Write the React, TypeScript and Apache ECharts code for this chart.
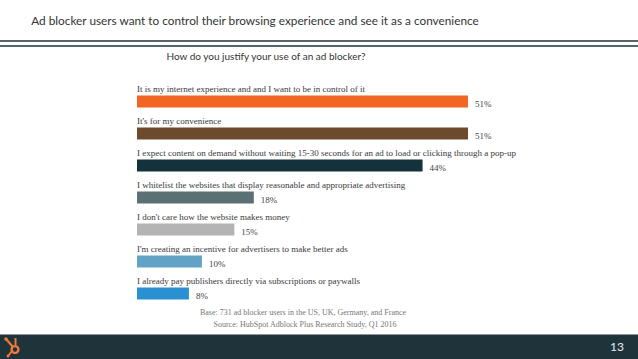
import React, { useEffect, useRef } from "react";
import * as echarts from "echarts";

const categories = [
  "It is my internet experience and and I want to be in control of it",
  "It's for my convenience",
  "I expect content on demand without waiting 15-30 seconds for an ad to load or clicking through a pop-up",
  "I whitelist the websites that display reasonable and appropriate advertising",
  "I don't care how the website makes money",
  "I'm creating an incentive for advertisers to make better ads",
  "I already pay publishers directly via subscriptions or paywalls",
];
const values = [51, 51, 44, 18, 15, 10, 8];
const barColors = ["#f26522", "#6e4a2c", "#15313b", "#5a7073", "#b4b4b4", "#62a3c5", "#2a90d2"];
const titleText = "Ad blocker users want to control their browsing experience and see it as a convenience";
const subtitleText = "How do you justify your use of an ad blocker?";
const baseText = "Base: 731 ad blocker users in the US, UK, Germany, and France";
const sourceText = "Source: HubSpot Adblock Plus Research Study, Q1 2016";
const pageNumber = "13";

export default function App() {
  const ref = useRef<HTMLDivElement>(null);
  useEffect(() => {
    if (!ref.current) return;
    const chart = echarts.init(ref.current, null, { renderer: "svg" });
    const serif = "'Liberation Serif', 'DejaVu Serif', serif";
    const sans = "Lato, 'Open Sans', sans-serif";
    const orange = "#ee7a3a";
    chart.setOption({
      animation: false,
      backgroundColor: "#ffffff",
      grid: { left: 137, top: 85.5, width: 331, height: 224, containLabel: false },
      xAxis: {
        type: "value",
        min: 0,
        max: 51,
        show: false,
      },
      yAxis: {
        type: "category",
        data: categories,
        inverse: true,
        axisLine: { show: false },
        axisTick: { show: false },
        splitLine: { show: false },
        axisLabel: {
          inside: true,
          margin: 0,
          align: "left",
          verticalAlign: "bottom",
          padding: [0, 0, 8, 0],
          fontFamily: serif,
          fontSize: 9,
          color: "#3a3a3a",
        },
      },
      series: [
        {
          type: "bar",
          barWidth: 12,
          data: values.map((v, i) => ({ value: v, itemStyle: { color: barColors[i] } })),
          label: {
            show: true,
            position: "right",
            distance: 7,
            offset: [0, 2],
            formatter: "{c}%",
            fontFamily: serif,
            fontSize: 9,
            color: "#444",
          },
        },
      ],
      graphic: [
        {
          type: "text",
          x: 255,
          y: 20.5,
          style: {
            text: titleText,
            fontFamily: sans,
            fontSize: 11.8,
            fill: "#333",
            align: "center",
            verticalAlign: "middle",
          },
        },
        { type: "line", shape: { x1: 0, y1: 41, x2: 638, y2: 41 }, style: { stroke: "#1f323a", lineWidth: 1.3 } },
        { type: "line", shape: { x1: 0, y1: 46, x2: 638, y2: 46 }, style: { stroke: "#1f323a", lineWidth: 1.3 } },
        {
          type: "text",
          x: 266,
          y: 56,
          style: {
            text: subtitleText,
            fontFamily: sans,
            fontSize: 10,
            fill: "#333",
            align: "center",
            verticalAlign: "middle",
          },
        },
        {
          type: "text",
          x: 303,
          y: 312,
          style: { text: baseText, fontFamily: serif, fontSize: 8, fill: "#777", align: "center", verticalAlign: "middle" },
        },
        {
          type: "text",
          x: 305,
          y: 324,
          style: { text: sourceText, fontFamily: serif, fontSize: 8, fill: "#777", align: "center", verticalAlign: "middle" },
        },
        { type: "rect", shape: { x: 0, y: 334.5, width: 638, height: 25 }, style: { fill: "#1f333b" } },
        {
          type: "group",
          children: [
            { type: "line", shape: { x1: 6, y1: 339, x2: 13, y2: 347 }, style: { stroke: orange, lineWidth: 2 } },
            { type: "circle", shape: { cx: 6, cy: 339, r: 1.8 }, style: { fill: orange } },
            { type: "line", shape: { x1: 15.5, y1: 338, x2: 15.5, y2: 345 }, style: { stroke: orange, lineWidth: 2 } },
            { type: "line", shape: { x1: 12, y1: 351, x2: 8, y2: 356 }, style: { stroke: orange, lineWidth: 2 } },
            { type: "circle", shape: { cx: 8, cy: 356, r: 1.4 }, style: { fill: orange } },
            { type: "ring", shape: { cx: 15, cy: 349.5, r: 4.6, r0: 2.2 }, style: { fill: orange } },
          ],
        },
        {
          type: "text",
          x: 617,
          y: 346,
          style: { text: pageNumber, fontFamily: sans, fontSize: 12, fill: "#e8eef0", align: "center", verticalAlign: "middle" },
        },
      ],
    });
    return () => chart.dispose();
  }, []);
  return <div ref={ref} style={{ position: "fixed", left: 0, top: 0, width: 638, height: 359 }} />;
}
